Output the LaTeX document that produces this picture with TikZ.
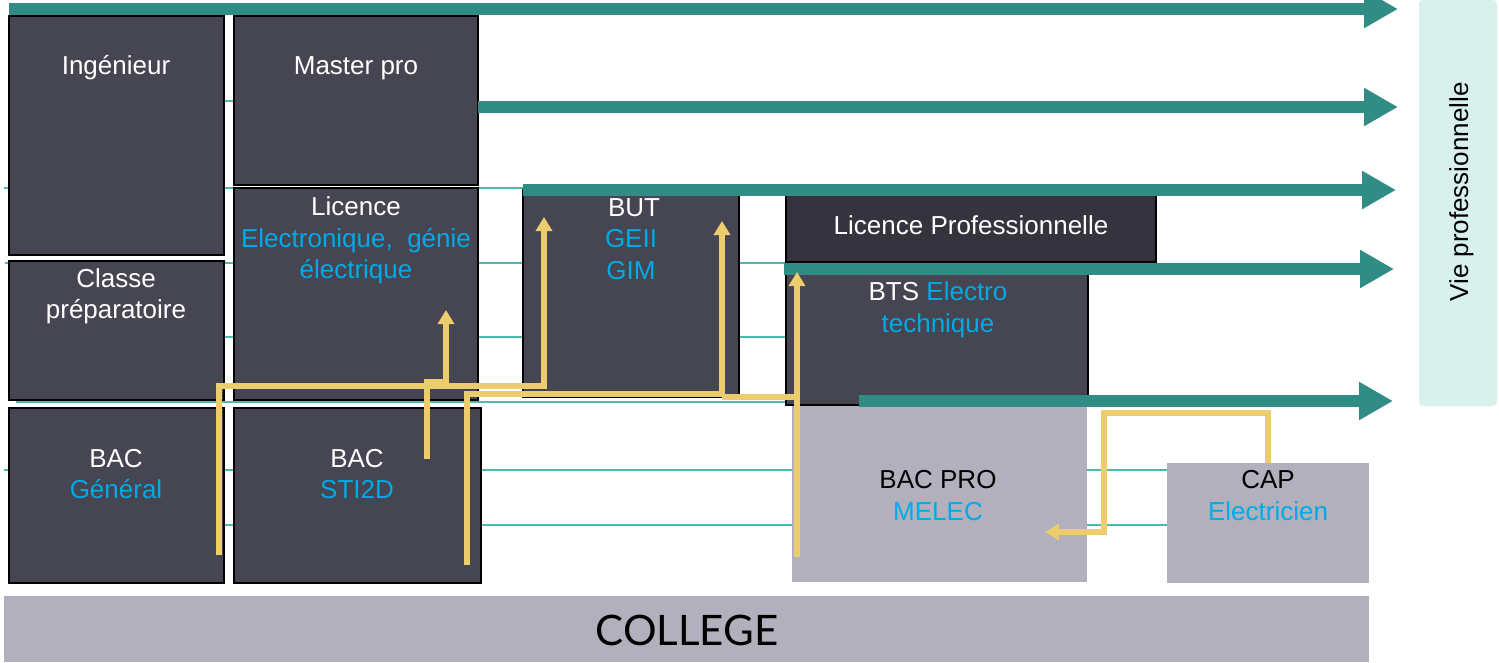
\documentclass[tikz,border=0pt]{standalone}
\usepackage{fontspec}
\setmainfont{Liberation Sans}
\newfontfamily\collegefont{Lato}
\usetikzlibrary{arrows.meta}
\definecolor{boxc}{RGB}{70,69,82}
\definecolor{lpc}{RGB}{53,52,62}
\definecolor{greyc}{RGB}{177,176,188}
\definecolor{tealc}{RGB}{49,140,133}
\definecolor{linec}{RGB}{72,187,172}
\definecolor{yelc}{RGB}{236,205,110}
\definecolor{cyanc}{RGB}{0,170,230}
\definecolor{viec}{RGB}{217,241,237}
\tikzset{
  darkbox/.style={draw=black, line width=1.2pt, fill=boxc, inner sep=0pt},
  greybox/.style={fill=greyc, inner sep=0pt},
  wtxt/.style={text=white, anchor=base, inner sep=0pt, font=\fontsize{26}{32}\selectfont},
  ctxt/.style={wtxt, text=cyanc},
  btxt/.style={wtxt, text=black},
  thinline/.style={draw=linec, line width=1.3pt},
  tealarrow/.style={draw=tealc, line width=12pt, -{Triangle[width=36pt,length=34pt]}},
  ypath/.style={draw=yelc, line width=5.5pt},
  yarrow/.style={ypath, -{Triangle[width=16pt,length=14pt]}},
}

\begin{document}
\begin{tikzpicture}
\useasboundingbox (0pt,0pt) rectangle (1499pt,-662pt);
% thin lines behind the boxes
\foreach \y/\xa/\xb in {101/9/478, 188/4/786, 263/5/790, 337/224/790, 402/16/792, 470/4/1167, 525/224/1167}
  \draw[thinline] (\xa pt,-\y pt) -- (\xb pt,-\y pt);
% boxes
\node (ing) [darkbox, minimum width=215pt, minimum height=239pt] at (116.5pt, -135.5pt) {};
\node (mas) [darkbox, minimum width=244pt, minimum height=169pt] at (356pt, -100.5pt) {};
\node (lic) [darkbox, minimum width=244pt, minimum height=212pt] at (356pt, -294pt) {};
\node (cla) [darkbox, minimum width=215pt, minimum height=139pt] at (116.5pt, -330.5pt) {};
\node (bgen) [darkbox, minimum width=215pt, minimum height=175pt] at (116.5pt, -495.5pt) {};
\node (bsti) [darkbox, minimum width=247pt, minimum height=175pt] at (357.5pt, -495.5pt) {};
\node (but) [darkbox, minimum width=216pt, minimum height=207pt] at (631pt, -293.5pt) {};
\node (lpro) [darkbox, fill=lpc, minimum width=370pt, minimum height=69pt] at (971pt, -227.5pt) {};
\node (bts) [darkbox, minimum width=302pt, minimum height=137pt] at (937pt, -336.5pt) {};
\node (bpro) [greybox, minimum width=295pt, minimum height=176pt] at (939.5pt, -494pt) {};
\node (cap) [greybox, minimum width=202pt, minimum height=120pt] at (1268pt, -523pt) {};
\node (col) [greybox, minimum width=1365pt, minimum height=66pt] at (686.5pt, -629pt) {};
\node (vie) [fill=viec, rounded corners=4pt, inner sep=0pt, minimum width=78pt, minimum height=406pt] at (1458pt, -203pt) {};
% teal arrows
\foreach \n/\xa/\y/\xb in {1/9/9/1398, 2/478/107/1398, 3/523/190/1396, 4/784/269/1394, 5/859/401/1393}
{
  \coordinate (pro\n s) at (\xa pt, -\y pt);
  \coordinate (pro\n e) at (\xb pt, -\y pt);
  \draw[tealarrow] (pro\n s) -- (pro\n e);
}
% texts
\node (ingT) [wtxt] at (116pt, -74pt) {Ingénieur};
\node (masT) [wtxt] at (356pt, -74pt) {Master pro};
\node (licT1) [wtxt] at (356pt, -215pt) {Licence};
\node (licT2) [ctxt] at (356pt, -247pt) {Electronique,\ \ génie};
\node (licT3) [ctxt] at (356pt, -278pt) {électrique};
\node (claT1) [wtxt] at (116pt, -287pt) {Classe};
\node (claT2) [wtxt] at (116pt, -318pt) {préparatoire};
\node (bgenT1) [wtxt] at (116pt, -467pt) {BAC};
\node (bgenT2) [ctxt] at (116pt, -498pt) {Général};
\node (bstiT1) [wtxt] at (357pt, -467pt) {BAC};
\node (bstiT2) [ctxt] at (357pt, -498pt) {STI2D};
\node (butT1) [wtxt] at (634pt, -216pt) {BUT};
\node (butT2) [ctxt] at (631pt, -247pt) {GEII};
\node (butT3) [ctxt] at (631pt, -279pt) {GIM};
\node (lproT) [wtxt] at (971pt, -234pt) {Licence Professionnelle};
\node (btsT1) [wtxt] at (938pt, -300pt) {BTS \textcolor{cyanc}{Electro}};
\node (btsT2) [ctxt] at (938pt, -332pt) {technique};
\node (bproT1) [btxt] at (938pt, -488pt) {BAC PRO};
\node (bproT2) [ctxt] at (938pt, -520pt) {MELEC};
\node (capT1) [btxt] at (1268pt, -488pt) {CAP};
\node (capT2) [ctxt] at (1268pt, -520pt) {Electricien};
\node (colT) [btxt, font=\collegefont\fontsize{42}{48}\selectfont] at (687pt, -645pt) {COLLEGE};
\node (vieT) [btxt, rotate=90] at (1468pt, -192pt) {Vie professionnelle};
% yellow paths
\coordinate (genS) at (219pt, -555pt);
\coordinate (jA) at (300pt, -386pt);
\coordinate (butA) at (544pt, -217pt);
\coordinate (stiS) at (427pt, -459pt);
\coordinate (jB) at (436pt, -382pt);
\coordinate (licA) at (446pt, -310pt);
\coordinate (stiS2) at (467pt, -565pt);
\coordinate (jC) at (600pt, -394pt);
\coordinate (butB) at (722pt, -221pt);
\coordinate (jD) at (795pt, -397pt);
\coordinate (proS) at (797pt, -557pt);
\coordinate (btsA) at (797pt, -272pt);
\coordinate (capS) at (1268pt, -463pt);
\coordinate (jE) at (1180pt, -413pt);
\coordinate (jF) at (1104pt, -532pt);
\coordinate (proA) at (1045pt, -532pt);
\draw[yarrow] (genS) |- (jA) -| (butA);
\draw[yarrow] (stiS) |- (jB) -| (licA);
\draw[yarrow] (stiS2) |- (jC) -| (butB);
\draw[ypath] (butB |- jD) -- (jD);
\draw[yarrow] (proS) -- (btsA);
\draw[yarrow] (capS) |- (jE) -| (jF) -- (proA);
\end{tikzpicture}
\end{document}
